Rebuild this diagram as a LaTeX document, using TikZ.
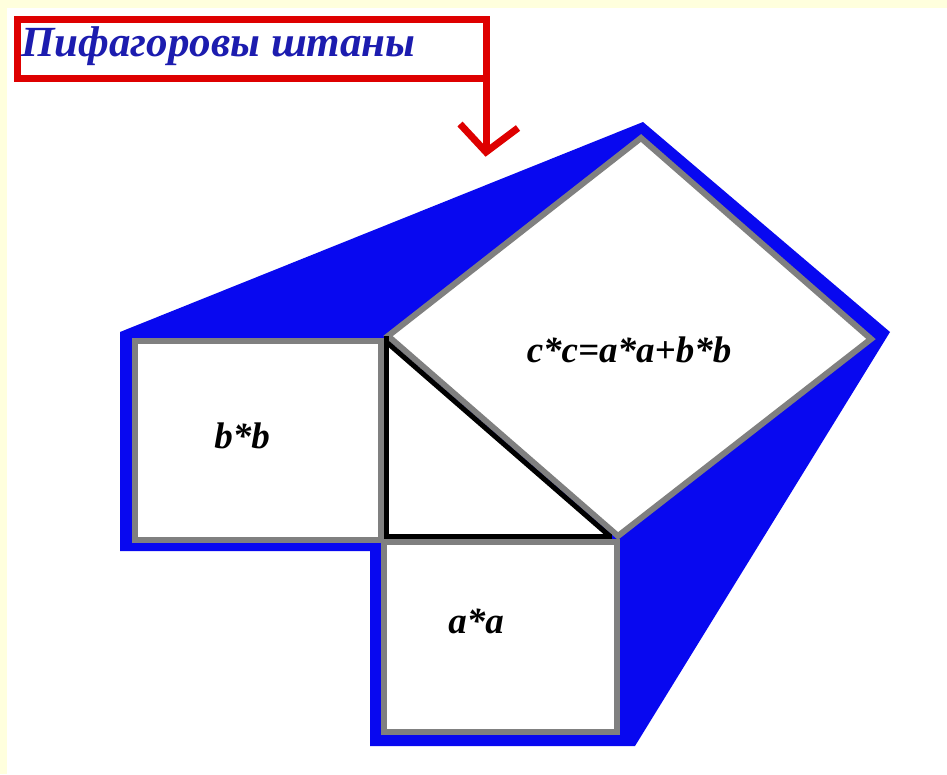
\documentclass[tikz,border=0pt]{standalone}
\usepackage{fontspec}
\usetikzlibrary{calc}
\newfontfamily\tfont{Liberation Serif}
\definecolor{cream}{RGB}{255,255,221}
\definecolor{pblue}{RGB}{8,8,240}
\definecolor{pgray}{RGB}{128,128,128}
\definecolor{pred}{RGB}{222,0,0}
\definecolor{tblue}{RGB}{28,28,175}
\tikzset{
  sqbox/.style={draw=pgray,line width=6pt,fill=white,line join=miter},
  triline/.style={draw=black,line width=5pt,line join=miter},
  redline/.style={draw=pred,line width=7pt},
  lbl/.style={font=\tfont\bfseries\itshape\fontsize{37}{44}\selectfont,text=black,inner sep=0pt},
}
\begin{document}
\begin{tikzpicture}[x=1pt,y=-1pt]
\useasboundingbox (0,0) rectangle (947,774);
\fill[cream] (0,0) rectangle (947,774);
\fill[white] (7,8) rectangle (947,774);
% blue backing
\fill[pblue] (120,332) -- (643,122) -- (890,332) -- (635,746) -- (370,746) -- (370,551) -- (120,551) -- cycle;
% triangle interior
\fill[white] (386,338) -- (386,536) -- (612,536) -- cycle;
% squares
\draw[sqbox] (135,341) rectangle (381,540);
\draw[sqbox] (384,542) rectangle (617,732);
\draw[sqbox] (388,336) -- (641,138) -- (871,339) -- (618,536) -- cycle;
% triangle sides
\draw[triline] (386,336) -- (386,536) -- (612,536);
\draw[triline] (386,341.6) -- (609.6,536);
% labels
\node[lbl] (bb) at (242,436) {b*b};
\node[lbl] (aa) at (476,621) {a*a};
\node[lbl] (cc) at (629,350) {c*c=a*a+b*b};
% title
\node[redline, minimum width=469pt, minimum height=59pt, inner sep=0pt, outer sep=0pt, fill=white] (title) at (251.5,48.5) {};
\node[anchor=base west, inner sep=0pt, text=tblue, font=\tfont\bfseries\itshape\fontsize{43}{50}\selectfont] (ttext) at (21,56) {Пифагоровы штаны};
\coordinate (tip) at (486,152);
\draw[redline] (title.south east) -- (tip);
\draw[redline, line join=miter] ($(tip)+(-26,-28)$) -- (tip) -- ($(tip)+(32,-24)$);
\end{tikzpicture}
\end{document}
